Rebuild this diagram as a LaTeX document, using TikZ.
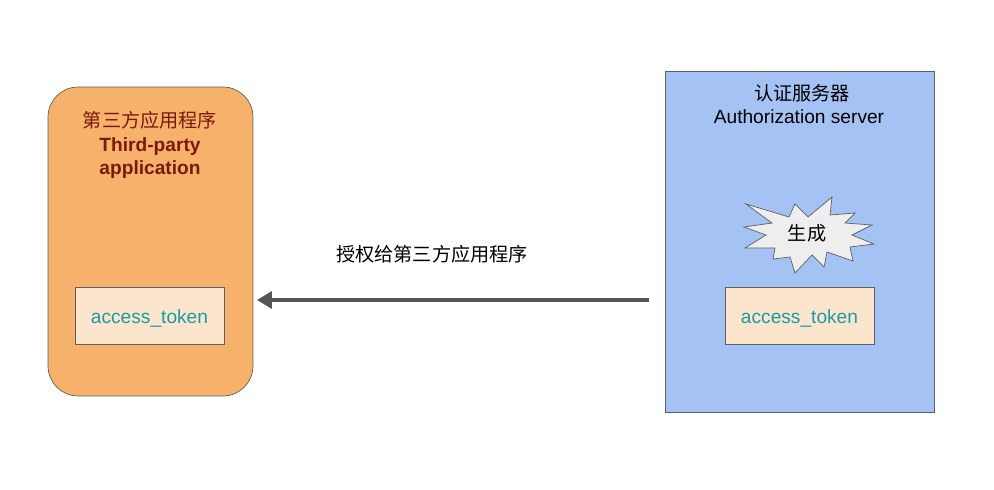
\documentclass[tikz,border=0pt]{standalone}
\usepackage{fontspec}
\setmainfont{Liberation Sans}
\newfontfamily\cjk{Noto Sans CJK SC}
\usetikzlibrary{arrows.meta}

\definecolor{appfill}{HTML}{F6B26B}
\definecolor{srvfill}{HTML}{A4C2F4}
\definecolor{tokfill}{HTML}{FCE5CD}
\definecolor{tokteal}{HTML}{1A9BA3}
\definecolor{appred}{HTML}{7A1A0C}
\definecolor{edgegray}{HTML}{5F5F5F}
\definecolor{burstfill}{HTML}{EEEEEE}

\tikzset{
  txt/.style={font=\fontsize{10.9}{13}\selectfont, inner sep=0pt},
  tokenbox/.style={draw=edgegray, fill=tokfill, minimum width=2.98cm, minimum height=1.14cm},
}

\begin{document}
\begin{tikzpicture}[x=0.02cm, y=-0.02cm]
        \useasboundingbox (0,0) rectangle (994,490);

        % Third-party application
        \node[draw=edgegray, fill=appfill, rounded corners=0.6cm,
              minimum width=4.1cm, minimum height=6.18cm] (app) at (150.5,241.5) {};
        \node[txt, anchor=base, text=appred] (apptitle) at (150,127) {\cjk 第三方应用程序};
        \node[txt, anchor=base, text=appred, font=\fontsize{10.9}{13}\selectfont\bfseries] (appname1) at (150,151) {Third-party};
        \node[txt, anchor=base, text=appred, font=\fontsize{10.9}{13}\selectfont\bfseries] (appname2) at (150,174) {application};
        \node[tokenbox] (apptok) at (149.5,315.5) {};
        \node[txt, anchor=base, text=tokteal] (apptoktext) at (149.5,323) {access\_token};

        % Authorization server
        \node[draw=edgegray, fill=srvfill, minimum width=5.38cm, minimum height=6.82cm] (srv) at (799.5,241.5) {};
        \node[txt, anchor=base] (srvtitle) at (802,100) {\cjk 认证服务器};
        \node[txt, anchor=base] (srvname) at (799,123) {Authorization server};

        % Generate burst
        \filldraw[draw=edgegray, fill=burstfill]
          (746,204) -- (789,217) -- (795,204) -- (808,217) -- (832,197) -- (830,215)
          -- (855,213) -- (845,223) -- (872,225) -- (852,235) -- (874,244) -- (850,247)
          -- (853,261) -- (827,252) -- (824,267) -- (812,255) -- (795,273) -- (790,257)
          -- (773,259) -- (775,248) -- (745,248) -- (766,235) -- (744,227) -- (772,223) -- cycle;
        \node[txt, anchor=base] (gen) at (807,240) {\cjk 生成};

        \node[tokenbox] (srvtok) at (799.5,315.5) {};
        \node[txt, anchor=base, text=tokteal] (srvtoktext) at (799.5,323) {access\_token};

        % Grant arrow
        \coordinate (grantfrom) at (649,300);
        \draw[edgegray!90!black, line width=2.3pt, -{Triangle[length=8.5pt,width=9.5pt]}]
          (grantfrom) -- (grantfrom -| app.east) [shorten >=2pt];
        \node[txt, anchor=base] (grantlabel) at (432,261) {\cjk 授权给第三方应用程序};
\end{tikzpicture}
\end{document}
